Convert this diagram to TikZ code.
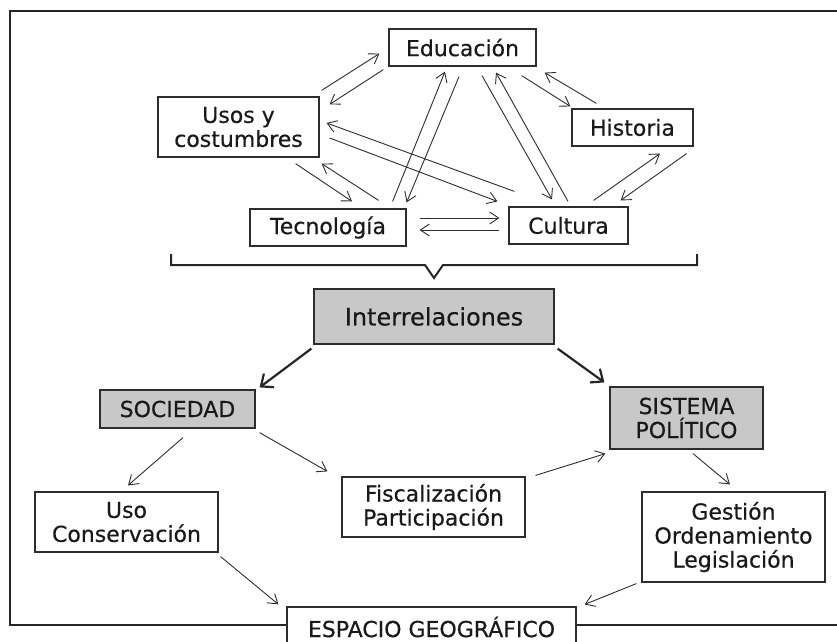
\documentclass[tikz,border=0pt]{standalone}
\usepackage{fontspec}
\setmainfont{DejaVu Sans}[FakeBold=0.4]
\usetikzlibrary{arrows.meta}
\definecolor{boxgray}{RGB}{200,200,200}
\definecolor{inkgray}{RGB}{45,45,45}
\begin{document}
\begin{tikzpicture}[x=1pt,y=-1pt,
  box/.style={draw=inkgray,line width=1.2pt,inner sep=0pt,align=center,text=black!90,
    font=\fontsize{22}{24}\selectfont},
  graybox/.style={box,fill=boxgray},
  arr/.style={draw=inkgray,line width=0.9pt,-{Straight Barb[length=9pt,width=12pt,line width=0.9pt]}},
  bigarr/.style={draw=black!85,line width=2.2pt,-{Straight Barb[length=10pt,width=17pt,line width=2.2pt]}}]
\useasboundingbox (0,0) rectangle (837,641);
\clip (0,0) rectangle (837,641);

%frame
\draw [line width=2.4pt,draw=black!85] (10,11) rectangle (870,625);

%upper boxes
\node [box,minimum width=147pt,minimum height=37pt] (edu) at (462.5,47.5) {Educación};
\node [box,minimum width=161pt,minimum height=60pt] (usos) at (238.5,127) {Usos y\\costumbres};
\node [box,minimum width=156pt,minimum height=37pt] (tec) at (328,227.5) {Tecnología};
\node [box,minimum width=119pt,minimum height=37pt] (cul) at (568.5,225.5) {Cultura};
\node [box,minimum width=121pt,minimum height=37pt] (his) at (632.5,127.5) {Historia};

%upper arrows
\draw [arr] ([shift={(2,-6)}]usos.north east) -- ([shift={(-9,-13)}]edu.south west);
\draw [arr] ([shift={(-5,3)}]edu.south west) -- ([shift={(10,8)}]usos.north east);
\draw [arr] ([shift={(-14,-7)}]tec.north east) -- ([shift={(-17.5,5)}]edu.south);
\draw [arr] ([shift={(-3.5,10)}]edu.south) -- ([shift={(0,-6)}]tec.north east);
\draw [arr] ([shift={(19.5,9)}]edu.south) -- ([shift={(-16.5,-7)}]cul.north);
\draw [arr] ([shift={(-0.5,-5)}]cul.north) -- ([shift={(33.5,6)}]edu.south);
\draw [arr] ([shift={(-15,9)}]edu.south east) -- ([shift={(-1,-2)}]his.north west);
\draw [arr] ([shift={(25,-5)}]his.north west) -- ([shift={(8,6)}]edu.south east);
\draw [arr] ([shift={(-35,-6)}]cul.north east) -- ([shift={(27.5,7)}]his.south);
\draw [arr] ([shift={(-7,7)}]his.south east) -- ([shift={(-8,-6)}]cul.north east);
\draw [arr] ([shift={(-24,6)}]usos.south east) -- ([shift={(24,-7)}]tec.north);
\draw [arr] ([shift={(-28,-8)}]tec.north east) -- ([shift={(2,6)}]usos.south east);
\draw [arr] ([shift={(10,11)}]usos.east) -- ([shift={(-11,-5)}]cul.north west);
\draw [arr] ([shift={(6,-15)}]cul.north west) -- ([shift={(7,-4)}]usos.east);
\draw [arr] ([shift={(13,-9.5)}]tec.east) -- ([shift={(-9,-7.5)}]cul.west);
\draw [arr] ([shift={(-9,4.5)}]cul.west) -- ([shift={(13,2.5)}]tec.east);

%brace
\draw [line width=2pt,draw=black!85] (171,254) -- (171,265) -- (425,265) -- (434,278) -- (443,265) -- (697,265) -- (697,254);

%lower boxes
\node [graybox,minimum width=240pt,minimum height=55pt,font=\fontsize{24}{26}\selectfont] (inter) at (434,316.5) {Interrelaciones};
\node [graybox,minimum width=155pt,minimum height=38pt] (soc) at (177.5,409) {SOCIEDAD};
\node [graybox,minimum width=153pt,minimum height=62pt] (sis) at (686.5,418) {SISTEMA\\POLÍTICO};
\node [box,minimum width=183pt,minimum height=60pt] (uso) at (126.5,522) {Uso\\Conservación};
\node [box,minimum width=183pt,minimum height=60pt] (fis) at (433.5,507) {Fiscalización\\Participación};
\node [box,minimum width=183pt,minimum height=90pt] (ges) at (733.5,537) {Gestión\\Ordenamiento\\Legislación};
\node [box,fill=white,minimum width=289pt,minimum height=40pt] (esp) at (431.5,627) {ESPACIO GEOGRÁFICO};

%lower arrows
\draw [bigarr] ([shift={(-2,4)}]inter.south west) -- ([shift={(4,-2)}]soc.north east);
\draw [bigarr] ([shift={(3,4)}]inter.south east) -- ([shift={(-5,-4)}]sis.north west);
\draw [arr] ([shift={(5.5,9)}]soc.south) -- ([shift={(1.5,-6)}]uso.north);
\draw [arr] ([shift={(4,4)}]soc.south east) -- ([shift={(-14,-5)}]fis.north west);
\draw [arr] ([shift={(10,-1)}]fis.north east) -- ([shift={(-4,4)}]sis.south west);
\draw [arr] ([shift={(6.5,4)}]sis.south) -- ([shift={(-3.5,-7)}]ges.north);
\draw [arr] ([shift={(2,4)}]uso.south east) -- ([shift={(-8,-2)}]esp.north west);
\draw [arr] ([shift={(-5,1)}]ges.south west) -- ([shift={(8,-2)}]esp.north east);

\end{tikzpicture}
\end{document}
